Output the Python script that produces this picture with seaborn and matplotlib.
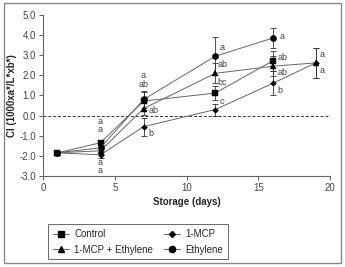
import numpy as np
import pandas as pd
import matplotlib
matplotlib.use("Agg")
import matplotlib.pyplot as plt
import seaborn as sns
from matplotlib.patches import Rectangle

# 数据
days_ctrl = [1, 4, 7, 12, 16]
ci_ctrl = [-1.85, -1.35, 0.72, 1.12, 2.72]
err_ctrl = [0.1, 0.15, 0.45, 0.35, 0.5]

days_mcp = [1, 4, 7, 12, 16, 19]
ci_mcp = [-1.85, -1.95, -0.55, 0.3, 1.6, 2.62]
err_mcp = [0.1, 0.15, 0.45, 0.3, 0.6, 0.75]

days_mcpe = [1, 4, 7, 12, 16, 19]
ci_mcpe = [-1.85, -1.75, 0.35, 2.1, 2.45, 2.62]
err_mcpe = [0.1, 0.15, 0.3, 0.5, 0.5, 0.75]

days_eth = [1, 4, 7, 12, 16]
ci_eth = [-1.85, -1.6, 0.8, 2.95, 3.85]
err_eth = [0.1, 0.15, 0.4, 0.95, 0.5]

series_names = ["Control", "1-MCP", "1-MCP+Ethylene", "Ethylene"]
legend_labels = ["Control", "1-MCP", "1-MCP + Ethylene", "Ethylene"]

# 显著性字母: (x, y, text, 对齐)
letters = [
    (4, -0.3, "a", "center"), (4, -0.7, "a", "center"),
    (4, -2.35, "a", "center"), (4, -2.75, "a", "center"),
    (7, 2.0, "a", "center"), (7, 1.55, "ab", "center"),
    (7.35, 0.25, "ab", "left"), (7.35, -0.9, "b", "left"),
    (12.3, 3.4, "a", "left"), (12.15, 2.55, "ab", "left"),
    (12.15, 1.65, "bc", "left"), (12.3, 0.72, "c", "left"),
    (16.5, 3.95, "a", "left"), (16.35, 2.88, "ab", "left"),
    (16.35, 2.15, "ab", "left"), (16.35, 1.25, "b", "left"),
    (19.3, 3.05, "a", "left"), (19.3, 2.25, "a", "left"),
]

frames = []
for name, d, v, e in [
    ("Control", days_ctrl, ci_ctrl, err_ctrl),
    ("1-MCP", days_mcp, ci_mcp, err_mcp),
    ("1-MCP+Ethylene", days_mcpe, ci_mcpe, err_mcpe),
    ("Ethylene", days_eth, ci_eth, err_eth),
]:
    frames.append(pd.DataFrame({"day": d, "ci": v, "err": e, "trt": name}))
df = pd.concat(frames, ignore_index=True)

sns.set_style("white")
plt.rcParams["font.family"] = ["Liberation Sans Narrow", "Liberation Sans", "DejaVu Sans"]

fig = plt.figure(figsize=(3.45, 2.67), dpi=100)
ax = fig.add_axes([0.125, 0.341, 0.832, 0.603])

markers = {"Control": "s", "1-MCP": "D", "1-MCP+Ethylene": "^", "Ethylene": "o"}
msize = {"Control": 4.2, "1-MCP": 3.0, "1-MCP+Ethylene": 4.0, "Ethylene": 4.5}
line_c = "#666666"

ax.axhline(0, color="#333333", lw=0.7, ls=(0, (3, 2)), zorder=1)

for name in series_names:
    sub = df[df.trt == name]
    ax.errorbar(sub.day, sub.ci, yerr=sub.err, fmt="none", ecolor="#333333",
                elinewidth=0.6, capsize=2.5, capthick=0.6, zorder=2)
    sns.lineplot(data=sub, x="day", y="ci", ax=ax, color=line_c, lw=0.7,
                 marker=markers[name], markersize=msize[name], mew=0.3,
                 markerfacecolor="black", markeredgecolor="black", zorder=3)

for x, y, t, ha in letters:
    ax.text(x, y, t, fontsize=6.5, color="#444444", ha=ha, va="center")

ax.set_xlim(0, 20)
ax.set_ylim(-3, 5)
ax.set_xticks([0, 5, 10, 15, 20])
yt = np.arange(-3, 5.1, 1)
ax.set_yticks(yt)
ax.set_yticklabels([f"{v:.1f}" for v in yt])
ax.tick_params(axis="both", labelsize=7, length=3, width=0.6, direction="out",
               colors="#444444", left=True, bottom=True, pad=2)
for s in ["top", "right"]:
    ax.spines[s].set_visible(False)
for s in ["left", "bottom"]:
    ax.spines[s].set_color("#666666")
    ax.spines[s].set_linewidth(0.8)
ax.set_xlabel("Storage (days)", fontsize=7, fontweight="bold", labelpad=3)
ax.set_ylabel("CI (1000xa*/L*xb*)", fontsize=7, fontweight="bold", labelpad=2)

handles = []
for name, lab in zip(series_names, legend_labels):
    h, = ax.plot([], [], color=line_c, lw=0.7, marker=markers[name],
                 markersize=msize[name], markerfacecolor="black",
                 markeredgecolor="black", label=lab)
    handles.append(h)
order = [0, 2, 1, 3]
leg = fig.legend([handles[i] for i in order], [legend_labels[i] for i in order],
                 ncol=2, loc="upper left", bbox_to_anchor=(0.125, 0.178),
                 fontsize=7, frameon=True, fancybox=False, edgecolor="#444444",
                 handlelength=1.7, borderpad=0.5, labelspacing=0.55,
                 columnspacing=1.1, handletextpad=0.5)
leg.get_frame().set_linewidth(0.7)

fig.patches.append(Rectangle((0.012, 0.015), 0.975, 0.975, transform=fig.transFigure,
                             fill=False, edgecolor="#888888", lw=1.0))

plt.savefig("out.png", dpi=100)
